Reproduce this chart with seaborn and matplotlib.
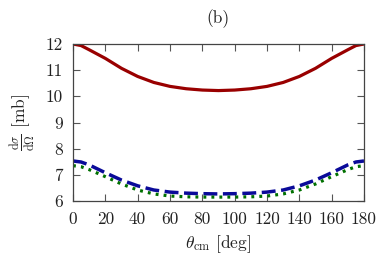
import matplotlib
matplotlib.use("Agg")
import matplotlib.pyplot as plt
import seaborn as sns
import pandas as pd

theta = [0, 5, 10, 20, 30, 40, 50, 60, 70, 80, 90, 100, 110, 120, 130, 140, 150, 160, 170, 175, 180]
red_vals = [12.0, 11.94, 11.78, 11.45, 11.07, 10.76, 10.53, 10.38, 10.29, 10.24, 10.22,
            10.24, 10.29, 10.38, 10.53, 10.76, 11.07, 11.45, 11.78, 11.94, 12.0]
blue_vals = [7.53, 7.49, 7.38, 7.08, 6.80, 6.58, 6.42, 6.34, 6.30, 6.28, 6.27,
             6.28, 6.30, 6.34, 6.42, 6.58, 6.80, 7.08, 7.38, 7.49, 7.53]
green_vals = [7.35, 7.31, 7.20, 6.93, 6.65, 6.42, 6.27, 6.19, 6.16, 6.15, 6.15,
              6.15, 6.16, 6.19, 6.27, 6.42, 6.65, 6.93, 7.20, 7.31, 7.35]
xticks = [0, 20, 40, 60, 80, 100, 120, 140, 160, 180]
yticks = [6, 7, 8, 9, 10, 11, 12]

sns.set_theme(style="ticks")
plt.rcParams['font.family'] = ['cmr10', 'DejaVu Serif']
plt.rcParams['mathtext.fontset'] = 'cm'
plt.rcParams['axes.formatter.use_mathtext'] = True
plt.rcParams['axes.unicode_minus'] = False

fig = plt.figure(figsize=(3.82, 2.65), dpi=100)
ax = fig.add_axes([73/382, 1-201/265, (364-73)/382, (201-44)/265])

sns.lineplot(x=theta, y=red_vals, ax=ax, color='#990000', lw=2.3)
sns.lineplot(x=theta, y=blue_vals, ax=ax, color='#0a0a99', lw=2.5, dashes=False,
             linestyle=(0, (4, 1.6)))
sns.lineplot(x=theta, y=green_vals, ax=ax, color='#007000', lw=2.3,
             linestyle=(0, (0.9, 1.6)))

ax.set_xlim(0, 180)
ax.set_ylim(6, 12)
ax.set_xticks(xticks)
ax.set_yticks(yticks)
ax.set_xticklabels([str(t) for t in xticks])
ax.set_yticklabels([str(t) for t in yticks])
ax.tick_params(direction='in', top=True, right=True, length=5, width=0.8,
               color='#555555', labelsize=12.5, pad=7.5, labelcolor='#222222')
for s in ax.spines.values():
    s.set_color('#444444')
    s.set_linewidth(0.9)

ax.set_xlabel(r'$\theta_{\rm cm}$ [deg]', fontsize=12.5, labelpad=5, color='#222222')
ax.set_ylabel(r'$\frac{\mathrm{d}\sigma}{\mathrm{d}\Omega}$ [mb]', fontsize=12.5, labelpad=6,
              color='#222222')
ax.set_title('(b)', fontsize=12.5, pad=15, color='#222222')

fig.savefig('out.png', dpi=100)
